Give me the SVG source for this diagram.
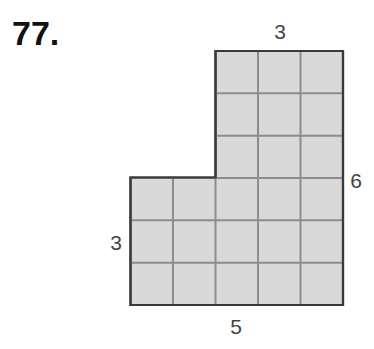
<svg xmlns="http://www.w3.org/2000/svg" width="374" height="349" viewBox="0 0 374 349">
<style>
.lbl{font-family:"Liberation Sans",Arial,sans-serif;font-size:21px;fill:#444;text-anchor:middle}
.num{font-family:"Liberation Sans",Arial,sans-serif;font-size:34px;font-weight:bold;fill:#111}
.grid{stroke:#8c8c8c;stroke-width:2;fill:none}
.outline{stroke:#3a3a3a;stroke-width:2.2;fill:#d9d9d9}
</style>
<rect width="374" height="349" fill="#ffffff"/>
<text class="num" x="12" y="45">77.</text>
<g id="shape">
<path class="outline" d="M215.5,51 H343 V305 H130.5 V177.5 H215.5 Z"/>
<g class="grid">
<line x1="258" y1="51" x2="258" y2="305"/>
<line x1="300.5" y1="51" x2="300.5" y2="305"/>
<line x1="173" y1="177.5" x2="173" y2="305"/>
<line x1="215.5" y1="177.5" x2="215.5" y2="305"/>
<line x1="215.5" y1="93.3" x2="343" y2="93.3"/>
<line x1="215.5" y1="135.7" x2="343" y2="135.7"/>
<line x1="215.5" y1="178" x2="343" y2="178"/>
<line x1="130.5" y1="220.3" x2="343" y2="220.3"/>
<line x1="130.5" y1="262.7" x2="343" y2="262.7"/>
</g>
<path d="M215.5,51 H343 V305 H130.5 V177.5 H215.5 Z" fill="none" stroke="#3a3a3a" stroke-width="2.2"/>
</g>
<g id="labels">
<text class="lbl" x="280" y="38.5">3</text>
<text class="lbl" x="356" y="187.5">6</text>
<text class="lbl" x="116" y="249.5">3</text>
<text class="lbl" x="236" y="334">5</text>
</g>
</svg>
